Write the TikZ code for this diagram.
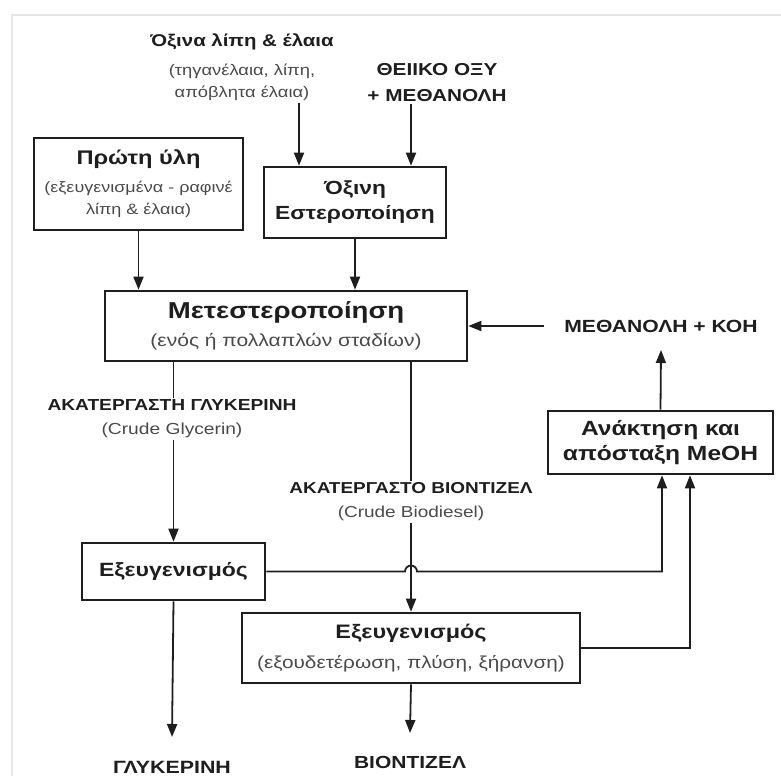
\documentclass[tikz,border=0pt]{standalone}
\usepackage{fontspec}
\setmainfont{Liberation Sans}[FakeStretch=1.2]
\usetikzlibrary{arrows.meta}
\definecolor{ink}{HTML}{1E1E1E}
\definecolor{subgray}{HTML}{4A4A4A}
% #1 size, #2 baselineskip
\newcommand\fsz[2]{\fontsize{#1}{#2}\selectfont}
\newcommand\mytitle[2]{{\fsz{#1}{#1}\bfseries\color{ink}#2}}
\begin{document}
\begin{tikzpicture}[x=1pt,y=-1pt,
  box/.style={draw=ink, line width=2.6pt, align=center, inner sep=0pt, text=subgray},
  conn/.style={draw=ink, line width=1.8pt},
  arr/.style={conn, -{Triangle[length=13pt,width=10pt]}},
  lab/.style={align=center, inner sep=2pt, text=subgray},
  caps/.style={align=center, inner sep=2pt, text=ink},
  white/.style={fill=white}
]
\useasboundingbox (0,0) rectangle (781,776);
\draw[black!10, line width=1.5pt] (12,776) -- (12,15) -- (781,15);

% top inputs
\node[lab, font=\fsz{15.3}{22}] (oil) at (242,67)
  {\mytitle{17}{Όξινα λίπη \& έλαια}\\[7pt](τηγανέλαια, λίπη,\\απόβλητα έλαια)};
\node[caps, font=\fsz{17.3}{26}\bfseries] (acid) at (437,83) {ΘΕΙΙΚΟ ΟΞΥ\\+ ΜΕΘΑΝΟΛΗ};

% boxes
\node[box, minimum width=209pt, minimum height=92pt, font=\fsz{15}{22}] (pu) at (138.5,184)
  {\mytitle{19.7}{Πρώτη ύλη}\\[6pt](εξευγενισμένα - ραφινέ\\λίπη \& έλαια)};
\node[box, minimum width=182pt, minimum height=71pt, font=\fsz{19}{25}\bfseries, text=ink] (oe) at (355,202.5)
  {Όξινη\\Εστεροποίηση};
\node[box, minimum width=362pt, minimum height=70pt, font=\fsz{17.5}{22}] (mt) at (286,326)
  {\mytitle{23}{Μετεστεροποίηση}\\[6pt](ενός ή πολλαπλών σταδίων)};
\node[caps, font=\fsz{17.6}{20}\bfseries] (koh) at (661,326) {ΜΕΘΑΝΟΛΗ + ΚΟΗ};
\node[box, minimum width=225pt, minimum height=63pt, font=\fsz{20.5}{25}\bfseries, text=ink] (an) at (660.5,442.5)
  {Ανάκτηση και\\απόσταξη MeOH};
\node[box, minimum width=183pt, minimum height=57pt, font=\fsz{19.2}{22}\bfseries, text=ink] (ex1) at (173.5,571.5)
  {Εξευγενισμός};
\node[box, minimum width=338pt, minimum height=70pt, font=\fsz{17.3}{22}] (ex2) at (411,648)
  {\mytitle{19.5}{Εξευγενισμός}\\[8pt](εξουδετέρωση, πλύση, ξήρανση)};

\node[caps, font=\fsz{17.8}{20}\bfseries] (gly) at (172,767) {ΓΛΥΚΕΡΙΝΗ};
\node[caps, font=\fsz{17.5}{20}\bfseries] (bio) at (410,762) {ΒΙΟΝΤΙΖΕΛ};

% helper coordinates
\path (oil.south) ++(57pt,0) coordinate (oilout);
\path (acid.south) ++(-26pt,0) coordinate (acidout);
\coordinate (an1) at ([xshift=1.5pt]an.south);
\coordinate (an2) at ([xshift=29.5pt]an.south);

% connectors
\draw[arr] (oilout) -- (oilout |- oe.north);
\draw[arr] (acidout) -- (acidout |- oe.north);
\draw[arr] (pu.south) -- (pu.south |- mt.north);
\draw[arr] (oe.south) -- (oe.south |- mt.north);
\draw[arr] ([xshift=-18pt]koh.west) -- (koh.west -| mt.east);
\draw[arr] (an.north) -- ([yshift=-24pt]koh.center);
\draw[arr] (mt.south -| ex1.north) -- (ex1.north);
\draw[arr] (mt.south -| ex2.north) -- (ex2.north);
\draw[arr] (ex1.east) -- ([xshift=-6pt]ex1.east -| ex2.north)
  arc[start angle=180, end angle=0, radius=6pt] -- (ex1.east -| an1) -- (an1);
\draw[arr] (ex2.east) -- (ex2.east -| an2) -- (an2);
\draw[arr] (ex1.south) -- ([yshift=30pt]gly.center);
\draw[arr] (ex2.south) -- ([yshift=29pt]bio.center);

% labels over the lines
\node[caps, white, font=\fsz{16}{24}\bfseries] (cg) at (172,419)
  {ΑΚΑΤΕΡΓΑΣΤΗ ΓΛΥΚΕΡΙΝΗ\\{\mdseries\color{subgray}(Crude Glycerin)}};
\node[caps, white, font=\fsz{15.8}{24}\bfseries] (cb) at (411,502)
  {ΑΚΑΤΕΡΓΑΣΤΟ ΒΙΟΝΤΙΖΕΛ\\{\mdseries\color{subgray}(Crude Biodiesel)}};
\end{tikzpicture}
\end{document}
